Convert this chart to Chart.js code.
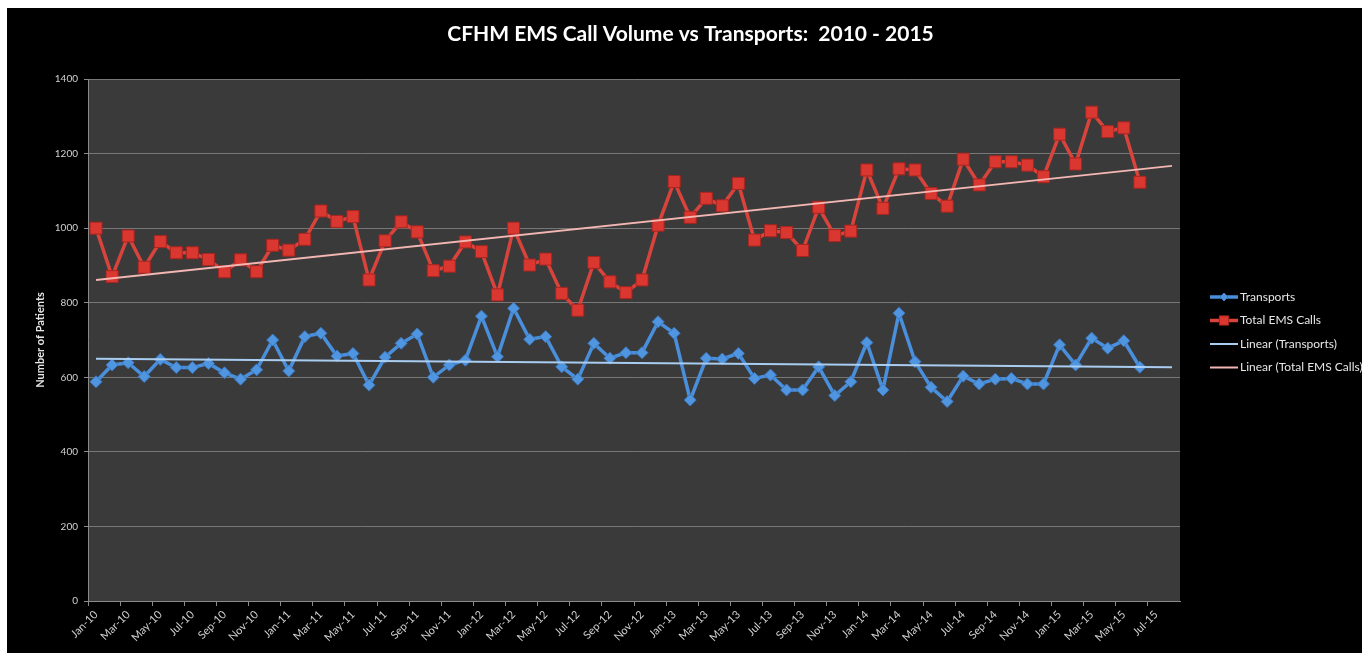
<!DOCTYPE html>
<html>
<head>
<meta charset="utf-8">
<script src="https://cdn.jsdelivr.net/npm/chart.js@4.4.1/dist/chart.umd.min.js"></script>
<style>
    html, body { margin: 0; padding: 0; background: #ffffff; }
    #wrap { position: absolute; left: 7px; top: 8px; width: 1355px; height: 645px; background: #000000; }
</style>
</head>
<body>
<div id="wrap"><canvas id="emsChart"></canvas></div>
<script>
    // Danh mục tháng: Jan-10 .. Aug-15 (trục có 68 ô, dữ liệu tới Jun-15)
    const MONTHS = ['Jan','Feb','Mar','Apr','May','Jun','Jul','Aug','Sep','Oct','Nov','Dec'];
    const YEARS  = ['10','11','12','13','14','15'];
    const labels = [];
    YEARS.forEach(y => MONTHS.forEach(m => labels.push(`${m}-${y}`)));
    labels.length = 68;

    const transports = [
        588, 633, 639, 602, 648, 626, 626, 637, 612, 595, 620, 700,
        617, 709, 718, 657, 664, 579, 654, 691, 716, 600, 633, 646,
        764, 655, 785, 702, 709, 628, 595, 691, 651, 666, 666, 749,
        718, 539, 651, 649, 664, 597, 606, 566, 566, 628, 551, 588,
        693, 566, 772, 642, 573, 535, 603, 582, 595, 597, 582, 582,
        687, 633, 705, 678, 698, 627
    ];

    const totalCalls = [
        1000, 870, 979, 895, 964, 934, 934, 916, 883, 915, 883, 954,
        941, 970, 1046, 1018, 1031, 861, 966, 1017, 990, 886, 898, 963,
        937, 821, 1000, 901, 917, 825, 780, 908, 856, 827, 861, 1008,
        1125, 1029, 1080, 1060, 1120, 968, 993, 988, 940, 1056, 980, 992,
        1156, 1053, 1159, 1156, 1093, 1059, 1185, 1116, 1178, 1178, 1169, 1138,
        1252, 1172, 1311, 1259, 1269, 1123
    ];

    // Đường xu hướng: giá trị đầu / cuối
    const trendTransports = [{ x: 'Jan-10', y: 650 }, { x: 'Aug-15', y: 627 }];
    const trendCalls      = [{ x: 'Jan-10', y: 861 }, { x: 'Aug-15', y: 1167 }];

    const yTicks = [0, 200, 400, 600, 800, 1000, 1200, 1400];

    const TITLE = 'CFHM EMS Call Volume vs Transports:  2010 - 2015';
    const FONT = 'Lato, "Open Sans", sans-serif';

    // Nền vùng vẽ màu xám đậm
    const plotBg = {
        id: 'plotBg',
        beforeDraw(chart) {
            const { ctx, chartArea: a } = chart;
            ctx.save();
            ctx.fillStyle = '#3a3a3a';
            ctx.fillRect(a.left, a.top, a.width, a.height);
            ctx.restore();
        }
    };

    // Tiêu đề căn giữa theo toàn bộ khung (kể cả phần chú thích)
    const topTitle = {
        id: 'topTitle',
        afterDraw(chart) {
            const { ctx } = chart;
            ctx.save();
            ctx.fillStyle = '#ffffff';
            ctx.font = `bold 21px ${FONT}`;
            ctx.textAlign = 'center';
            ctx.textBaseline = 'middle';
            ctx.fillText(TITLE, chart.width / 2 + 6, 26);
            ctx.restore();
        }
    };

    // Chú thích bên phải (đường + điểm đánh dấu)
    const sideLegend = {
        id: 'sideLegend',
        afterDraw(chart) {
            const { ctx, chartArea: a } = chart;
            const x0 = a.right + 30;
            const x1 = x0 + 28;
            let y = a.top + 218;
            ctx.save();
            chart.data.datasets.forEach(ds => {
                ctx.strokeStyle = ds.borderColor;
                ctx.lineWidth = ds.borderWidth;
                ctx.beginPath();
                ctx.moveTo(x0, y);
                ctx.lineTo(x1, y);
                ctx.stroke();
                if (ds.pointRadius > 0) {
                    ctx.fillStyle = ds.pointBackgroundColor;
                    ctx.strokeStyle = ds.pointBorderColor;
                    ctx.lineWidth = 1;
                    Chart.helpers.drawPoint(ctx, {
                        pointStyle: ds.pointStyle,
                        radius: ds.pointRadius - 2,
                        rotation: 0,
                        borderWidth: 1
                    }, (x0 + x1) / 2, y);
                }
                ctx.fillStyle = '#e6e6e6';
                ctx.font = `12px ${FONT}`;
                ctx.textBaseline = 'middle';
                ctx.textAlign = 'left';
                ctx.fillText(ds.label, x1 + 2, y);
                y += 23.5;
            });
            ctx.restore();
        }
    };

    new Chart(document.getElementById('emsChart').getContext('2d'), {
        type: 'line',
        data: {
            labels: labels,
            datasets: [
                {
                    label: 'Transports',
                    data: transports,
                    borderColor: '#4a8fdc',
                    borderWidth: 3.5,
                    pointStyle: 'rectRot',
                    pointRadius: 6,
                    pointBackgroundColor: '#4f95e0',
                    pointBorderColor: '#3b78c0',
                    pointBorderWidth: 1,
                    tension: 0,
                    order: 2
                },
                {
                    label: 'Total EMS Calls',
                    data: totalCalls,
                    borderColor: '#d8433c',
                    borderWidth: 3.5,
                    pointStyle: 'rect',
                    pointRadius: 8.5,
                    pointBackgroundColor: '#d9372f',
                    pointBorderColor: '#a82520',
                    pointBorderWidth: 1,
                    tension: 0,
                    order: 1
                },
                {
                    label: 'Linear (Transports)',
                    data: trendTransports,
                    borderColor: '#a9cdf0',
                    borderWidth: 2,
                    pointRadius: 0,
                    spanGaps: true,
                    order: 0
                },
                {
                    label: 'Linear (Total EMS Calls)',
                    data: trendCalls,
                    borderColor: '#f2b6b3',
                    borderWidth: 2,
                    pointRadius: 0,
                    spanGaps: true,
                    order: 0
                }
            ]
        },
        options: {
            responsive: true,
            maintainAspectRatio: false,
            animation: false,
            layout: { padding: { left: 0, right: 182, top: 71, bottom: 0 } },
            plugins: {
                legend: { display: false },
                tooltip: { enabled: false },
                title: { display: false }
            },
            scales: {
                x: {
                    type: 'category',
                    offset: true,
                    afterFit(scale) { scale.height = 52; },
                    grid: {
                        offset: true,
                        drawOnChartArea: false,
                        drawTicks: true,
                        tickLength: 5,
                        color: ctx => (ctx.index % 2 === 0 ? '#8a8a8a' : 'rgba(0,0,0,0)')
                    },
                    border: { color: '#8a8a8a', width: 1 },
                    ticks: {
                        autoSkip: false,
                        maxRotation: 45,
                        minRotation: 45,
                        padding: 2,
                        color: '#d0d0d0',
                        font: { family: FONT, size: 11 },
                        callback: (v, i) => (i % 2 === 0 ? labels[i] : '')
                    }
                },
                y: {
                    min: 0,
                    max: 1400,
                    afterFit(scale) { scale.width = 81; },
                    afterBuildTicks(scale) { scale.ticks = yTicks.map(v => ({ value: v })); },
                    grid: {
                        color: '#777777',
                        lineWidth: 1,
                        tickLength: 4,
                        tickColor: '#8a8a8a'
                    },
                    border: { color: '#8a8a8a', width: 1 },
                    ticks: {
                        padding: 6,
                        color: '#d0d0d0',
                        font: { family: FONT, size: 10 },
                        callback: v => String(v)
                    },
                    title: {
                        display: true,
                        text: 'Number of Patients',
                        color: '#e6e6e6',
                        font: { family: FONT, size: 11, weight: 'bold' },
                        padding: { top: 27, bottom: 0 }
                    }
                }
            }
        },
        plugins: [plotBg, sideLegend, topTitle]
    });
</script>
</body>
</html>
